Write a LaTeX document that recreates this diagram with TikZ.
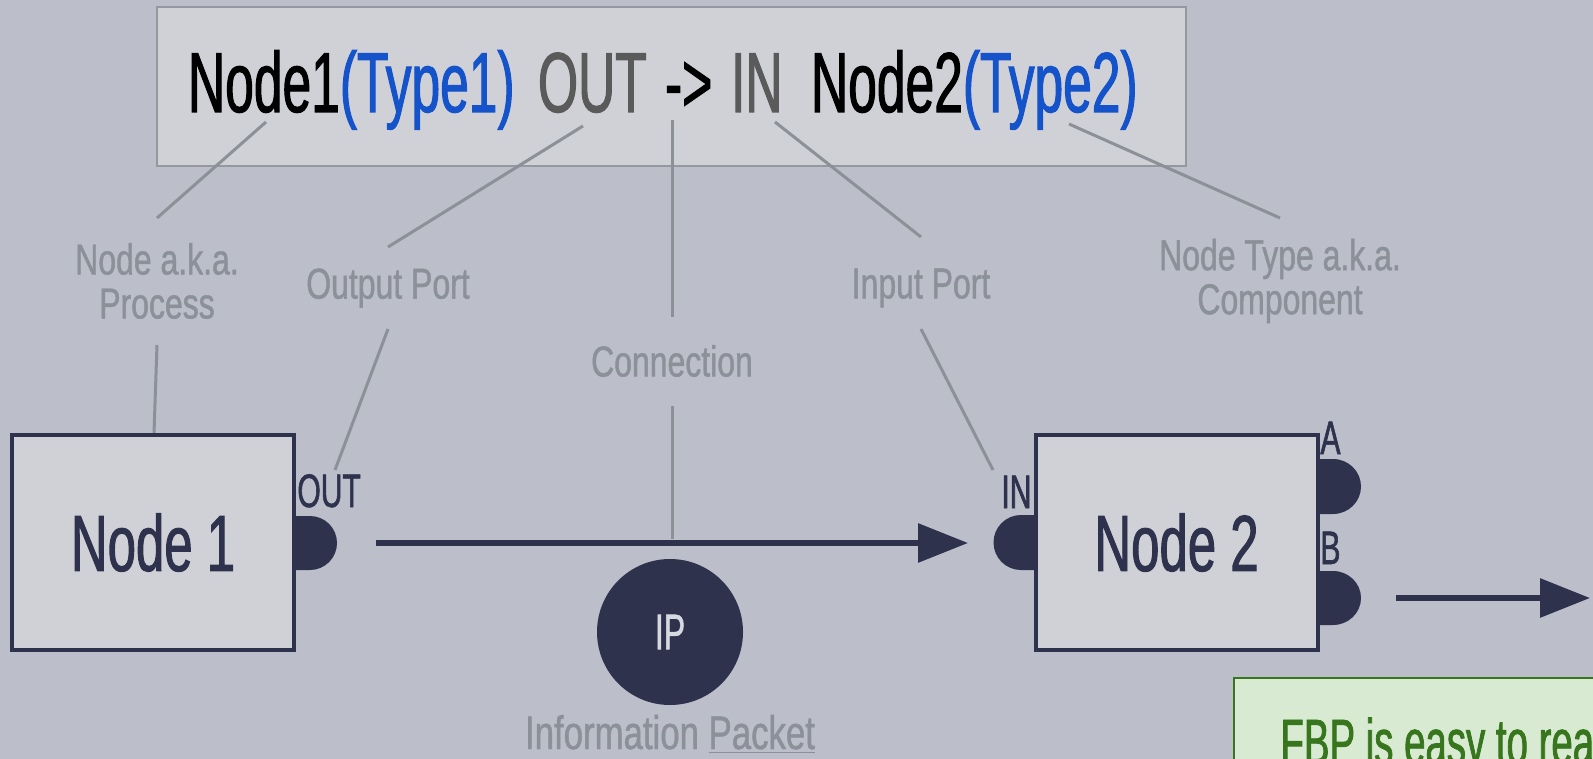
\documentclass[tikz,border=0pt]{standalone}
\usepackage{fontspec}
\setmainfont[FakeStretch=0.64,FakeBold=1.2]{Liberation Sans}
\newfontfamily\hdrfont[FakeStretch=0.605,FakeBold=1.2]{Liberation Sans}
\newfontfamily\lblfont[FakeStretch=0.74,FakeBold=1.0]{Liberation Sans}
\newfontfamily\notefont[FakeStretch=0.6,FakeBold=1.2]{Liberation Sans}
\usetikzlibrary{arrows.meta}
\definecolor{bg}{RGB}{188,190,202}
\definecolor{hdrfill}{RGB}{208,209,215}
\definecolor{hdrline}{RGB}{150,152,160}
\definecolor{navy}{RGB}{46,50,77}
\definecolor{boxfill}{RGB}{208,209,215}
\definecolor{lblgray}{RGB}{139,144,153}
\definecolor{leadgray}{RGB}{140,145,152}
\definecolor{typeblue}{RGB}{20,83,201}
\definecolor{portgray}{RGB}{90,90,90}
\definecolor{ipwhite}{RGB}{215,217,225}
\definecolor{notefill}{RGB}{217,234,211}
\definecolor{notegreen}{RGB}{56,118,29}
\begin{document}
\begin{tikzpicture}[x=0.5pt,y=-0.5pt,
  hdrtext/.style={anchor=base west, inner sep=0, outer sep=0, font=\hdrfont\fontsize{42.6}{44}\selectfont},
  lbl/.style={text=lblgray, font=\lblfont\fontsize{21.6}{22}\selectfont, align=center, inner sep=0},
  leader/.style={draw=leadgray, line width=1.5pt},
  procbox/.style={draw=navy, fill=boxfill, line width=2pt, inner sep=0, outer sep=0,
    minimum width=141pt, minimum height=107.5pt, text=navy, font=\fontsize{39.8}{40}\selectfont},
  portlbl/.style={text=navy, inner sep=0, font=\fontsize{23.5}{24}\selectfont},
  flow/.style={draw=navy, line width=3pt, -{Triangle[length=25pt,width=19pt]}}]
\fill[bg] (0,0) rectangle (1593,759);
\useasboundingbox (0,0) rectangle (1593,759);

% header box
\node[draw=hdrline, fill=hdrfill, line width=0.75pt, inner sep=0, outer sep=0,
  minimum width=514.5pt, minimum height=79.5pt, anchor=north west] (hdr) at (157,7) {};
\node[hdrtext, text=black] (t1) at (188,112) {Node1};
\node[hdrtext, text=typeblue] (t2) at (t1.base east) {(Type1)};
\node[hdrtext, text=portgray] (t3) at (538,112) {OUT};
\node[hdrtext, text=black] (t4) at (665,112) {->};
\node[hdrtext, text=portgray] (t5) at (731,112) {IN};
\node[hdrtext, text=black] (t6) at (811,112) {Node2};
\node[hdrtext, text=typeblue] (t7) at (t6.base east) {(Type2)};

% labels
\node[lbl] (lproc) at (157,281) {Node a.k.a.\\Process};
\node[lbl] (lout) at (388,288) {Output Port};
\node[lbl] (lconn) at (672,361) {Connection};
\node[lbl] (lin) at (921,288) {Input Port};
\node[lbl] (lcomp) at (1280,281) {Node Type a.k.a.\\Component};
\node[lbl, anchor=base, font=\lblfont\fontsize{23.5}{24}\selectfont] (lip) at (670,749) {Information \underline{Packet}};

% leader coordinates
\coordinate (c1a) at (266,122); \coordinate (c1b) at (157,218);
\coordinate (c2a) at (583,126); \coordinate (c2b) at (388,247);
\coordinate (c3a) at (672,120); \coordinate (c3b) at (672,317);
\coordinate (c4a) at (775,122); \coordinate (c4b) at (921,237);
\coordinate (c5a) at (1069,124); \coordinate (c5b) at (1280,218);
\coordinate (c6a) at (157,345); \coordinate (c6b) at (154,433);
\coordinate (c7a) at (388,329); \coordinate (c7b) at (335,470);
\coordinate (c8a) at (672,406); \coordinate (c8b) at (672,539);
\coordinate (c9a) at (921,329); \coordinate (c9b) at (993,470);
\foreach \i in {1,...,9} { \draw[leader] (c\i a) -- (c\i b); }

% process boxes
\node[procbox] (n1) at (153,542.5) {Node 1};
\node[procbox] (n2) at (1176.5,542.5) {Node 2};

% ports
\fill[navy] (296,516) -- (310,516) arc[start angle=90, end angle=-90, radius=13.5pt] -- (296,570) -- cycle;
\fill[navy] (1034,515) -- (1021,515) arc[start angle=90, end angle=270, radius=13.75pt] -- (1034,570) -- cycle;
\fill[navy] (1319,459) -- (1333,459) arc[start angle=90, end angle=-90, x radius=14pt, y radius=13.75pt] -- (1319,514) -- cycle;
\fill[navy] (1319,571) -- (1333,571) arc[start angle=90, end angle=-90, x radius=14pt, y radius=13.5pt] -- (1319,625) -- cycle;
\coordinate (pout) at (337,543);
\coordinate (pin) at (994,543);
\coordinate (pb) at (1361,598);
\coordinate (pend) at (1590,598);

\node[portlbl, anchor=base west] (lo) at (297,507) {OUT};
\node[portlbl, anchor=base west] (li) at (1001,508) {IN};
\node[portlbl, anchor=base west] (la) at (1320,454) {A};
\node[portlbl, anchor=base west] (lb) at (1320,564) {B};

% flows
\draw[flow, shorten <=19.5pt, shorten >=13pt] (pout) -- (pin);
\draw[flow, shorten <=17.5pt] (pb) -- (pend);

% information packet
\node[circle, fill=navy, minimum size=73pt, inner sep=0, text=ipwhite,
  font=\fontsize{25}{25}\selectfont] (ip) at (670,632) {IP};

% note box
\draw[fill=notefill, draw=notegreen, line width=1pt] (1234,678) rectangle (1700,820);
\node[anchor=base west, inner sep=0, text=notegreen, font=\notefont\fontsize{32}{32}\selectfont] (note) at (1280,764) {FBP is easy to rea};
\end{tikzpicture}
\end{document}
